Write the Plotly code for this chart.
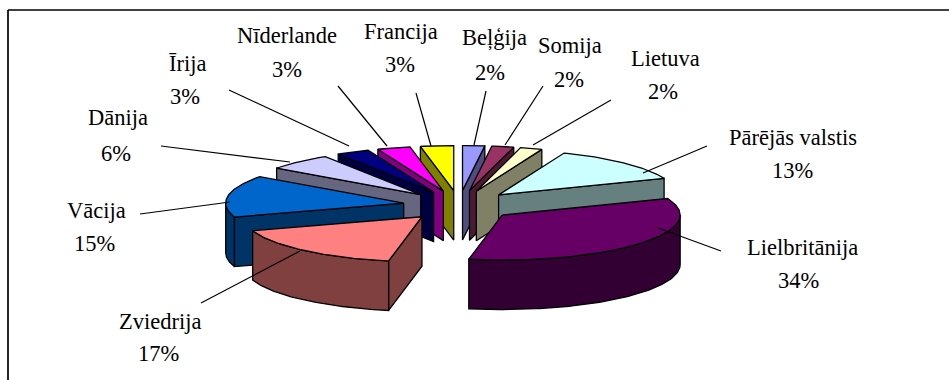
import numpy as np
import plotly.graph_objects as go

# ---- data -------------------------------------------------------------
categories = ["Beļģija", "Somija", "Lietuva", "Pārējās valstis", "Lielbritānija",
              "Zviedrija", "Vācija", "Dānija", "Īrija", "Nīderlande", "Francija"]
values = [2, 2, 2, 13, 34, 17, 15, 6, 3, 3, 3]
top_colors = ["#9999FF", "#993366", "#FFFFCC", "#CCFFFF", "#660066",
              "#FF8080", "#0066CC", "#CCCCFF", "#000080", "#FF00FF", "#FFFF00"]
side_colors = ["#4D4D80", "#4D1A33", "#808066", "#668080", "#330033",
               "#804040", "#003366", "#666680", "#000040", "#800080", "#808000"]

# ---- layout of the labels (pixels of the 949x380 page) ------------------
label_name_xy = [(494, 38), (570, 45), (665, 58), (793, 137), (802, 247),
                 (160, 321), (96, 210), (118, 117), (187, 63), (287, 35), (401, 31)]
label_pct_xy = [(490, 72), (569, 79), (663, 91), (792, 170), (798, 280),
                (158, 353), (94, 243), (116, 153), (185, 96), (287, 69), (400, 64)]
leader_lines = [((486, 91), (474, 145)), ((543, 86), (505, 145)), ((611, 100), (533, 145)),
                ((707, 146), (643, 173)), ((721, 251), (658, 228)), ((201, 303), (300, 251)),
                ((140, 214), (230, 202)), ((161, 146), (290, 162)), ((229, 90), (349, 146)),
                ((338, 86), (387, 146)), ((416, 93), (431, 146))]

# pie projection
CX, CY = 459.0, 205.5      # pie centre on screen
RX, RY = 178.0, 45.0       # ellipse radii
EX, EY = 56.0, 15.0        # explosion offset
DEPTH = 49.5
paint_order = [0, 10, 1, 9, 2, 8, 7, 3, 6, 4, 5]

fracs = np.array(values, dtype=float) / sum(values)
ends = np.cumsum(fracs) * 360.0
starts = ends - fracs * 360.0


def pt(t, ax, ay):
    r = np.radians(t)
    return ax + RX * np.sin(r), ay - RY * np.cos(r)


def arc(t0, t1, ax, ay):
    n = max(2, int(abs(t1 - t0) / 1.0) + 2)
    ts = np.linspace(t0, t1, n)
    return pt(ts, ax, ay)


fig = go.Figure()


def poly(xs, ys, fill):
    fig.add_trace(go.Scatter(
        x=list(xs) + [xs[0]], y=list(ys) + [ys[0]], mode="lines", fill="toself",
        fillcolor=fill, line=dict(color="#000000", width=1.3),
        hoverinfo="skip", showlegend=False))


for i in paint_order:
    s, e = starts[i], ends[i]
    m = np.radians((s + e) / 2)
    ax = CX + EX * np.sin(m)
    ay = CY - EY * np.cos(m)
    side = side_colors[i]

    # straight cut walls turned to the viewer
    if e <= 180:
        x1, y1 = pt(e, ax, ay)
        poly([ax, x1, x1, ax], [ay, y1, y1 + DEPTH, ay + DEPTH], side)
    if s >= 180:
        x1, y1 = pt(s, ax, ay)
        poly([ax, x1, x1, ax], [ay, y1, y1 + DEPTH, ay + DEPTH], side)

    # outer rim on the near half of the ellipse
    a0, a1 = max(s, 90), min(e, 270)
    if a1 > a0:
        xa, ya = arc(a0, a1, ax, ay)
        poly(np.r_[xa, xa[::-1]], np.r_[ya, ya[::-1] + DEPTH], side)

    # top face
    xa, ya = arc(s, e, ax, ay)
    poly(np.r_[ax, xa], np.r_[ay, ya], top_colors[i])

# leader lines and the chart frame (only its top and left edges are in the picture)
shapes = [dict(type="line", xref="x", yref="y", x0=a[0], y0=a[1], x1=b[0], y1=b[1],
               line=dict(color="#000000", width=1.2), layer="above")
          for a, b in leader_lines]
shapes.append(dict(type="line", xref="x", yref="y", x0=8, y0=10, x1=949, y1=10,
                   line=dict(color="#000000", width=1.7), layer="below"))
shapes.append(dict(type="line", xref="x", yref="y", x0=8, y0=10, x1=8, y1=380,
                   line=dict(color="#000000", width=1.7), layer="below"))

annotations = []
FONT = dict(family="Liberation Serif", size=22.5, color="#000000")
for name, v, nxy, pxy in zip(categories, values, label_name_xy, label_pct_xy):
    annotations.append(dict(x=nxy[0], y=nxy[1], xref="x", yref="y", text=name, showarrow=False,
                            font=FONT, xanchor="center", yanchor="middle"))
    annotations.append(dict(x=pxy[0], y=pxy[1], xref="x", yref="y", text=f"{v}%", showarrow=False,
                            font=FONT, xanchor="center", yanchor="middle"))

fig.update_layout(
    width=949, height=380, margin=dict(l=0, r=0, t=0, b=0),
    paper_bgcolor="#FFFFFF", plot_bgcolor="#FFFFFF", showlegend=False,
    xaxis=dict(range=[0, 949], visible=False, fixedrange=True),
    yaxis=dict(range=[380, 0], visible=False, fixedrange=True),
    shapes=shapes, annotations=annotations,
)
fig.write_html("out.html", config=dict(displayModeBar=False),
               post_script="document.body.style.margin='0';document.documentElement.style.overflow='hidden';")
